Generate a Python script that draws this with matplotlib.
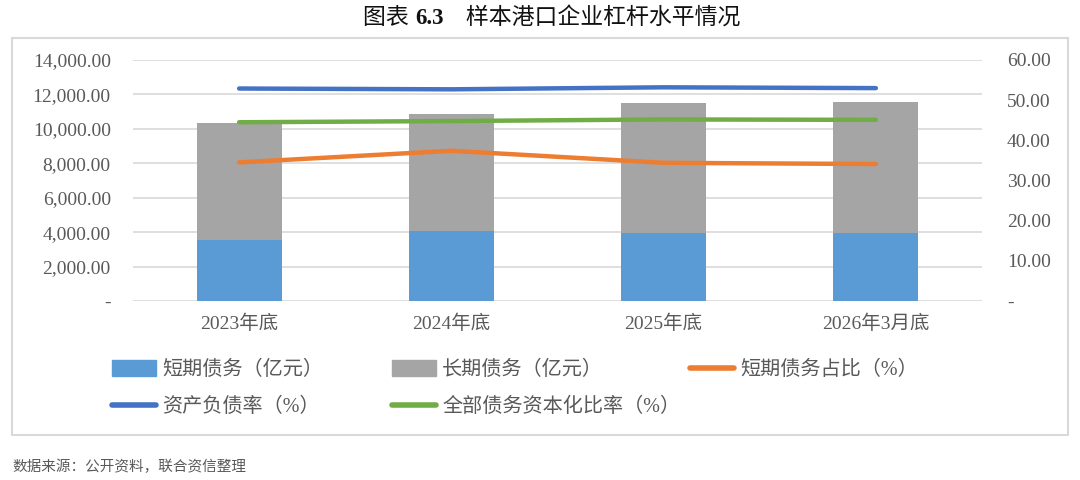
import matplotlib
matplotlib.use("Agg")
import matplotlib.pyplot as plt
from matplotlib.patches import Rectangle, Patch
from matplotlib.lines import Line2D
from matplotlib.ticker import FuncFormatter
import numpy as np

plt.rcParams['font.family'] = ['Liberation Serif', 'Noto Sans CJK SC', 'DejaVu Sans']

# data
categories = ["2023年底", "2024年底", "2025年底", "2026年3月底"]
short_debt = [3560, 4050, 3950, 3950]          # 短期债务（亿元）
total_debt = [10360, 10860, 11480, 11580]
long_debt = [t - s for t, s in zip(total_debt, short_debt)]  # 长期债务（亿元）
short_ratio = [34.5, 37.4, 34.4, 34.1]         # 短期债务占比（%）
asset_liab = [52.9, 52.7, 53.2, 53.0]          # 资产负债率（%）
cap_ratio = [44.5, 44.8, 45.2, 45.1]           # 全部债务资本化比率（%）

c_short = "#5B9BD5"
c_long = "#A5A5A5"
c_orange = "#ED7D31"
c_blue = "#4472C4"
c_green = "#70AD47"
txt = "#595959"

fig = plt.figure(figsize=(10.8, 4.8), dpi=100)
ax = fig.add_axes([133 / 1080, 1 - 301 / 480, (982 - 133) / 1080, 241 / 480])
ax2 = ax.twinx()

x = np.arange(len(categories))
ax.bar(x, short_debt, width=0.4, color=c_short, zorder=2)
ax.bar(x, long_debt, width=0.4, bottom=short_debt, color=c_long, zorder=2)
ax.set_ylim(0, 14000)
ax.set_yticks(np.arange(0, 14001, 2000))
ax.yaxis.set_major_formatter(FuncFormatter(lambda v, p: "-" if v == 0 else f"{v:,.2f}"))
ax.grid(axis="y", color="#D9D9D9", linewidth=1.2, zorder=0)
ax.set_axisbelow(True)
ax.set_xlim(-0.5, len(categories) - 0.5)
ax.set_xticks(x)
ax.set_xticklabels(categories)

lw = 3.2
ax2.plot(x, short_ratio, color=c_orange, lw=lw, solid_capstyle="round")
ax2.plot(x, asset_liab, color=c_blue, lw=lw, solid_capstyle="round")
ax2.plot(x, cap_ratio, color=c_green, lw=lw, solid_capstyle="round")
ax2.set_ylim(0, 60)
ax2.set_yticks(np.arange(0, 61, 10))
ax2.yaxis.set_major_formatter(FuncFormatter(lambda v, p: "-" if v == 0 else f"{v:.2f}"))

for a in (ax, ax2):
    for s in a.spines.values():
        s.set_visible(False)
    a.tick_params(length=0, labelsize=14, labelcolor=txt)
ax.tick_params(axis="y", pad=16)
ax.tick_params(axis="x", pad=10)
ax2.tick_params(axis="y", pad=18)

# chart frame
fig.add_artist(Rectangle((12 / 1080, 1 - 435 / 480), 1056 / 1080, 397 / 480,
                         transform=fig.transFigure, fill=False,
                         edgecolor="#D9D9D9", linewidth=1.5))

# title: regular CJK with bold number, pieced together left to right
renderer = fig.canvas.get_renderer()
parts = [("图表 ", "normal"), ("6.3", "bold"), ("　样本港口企业杠杆水平情况", "normal")]
pieces = []
for s, w in parts:
    t = fig.text(0, 1 - 18 / 480, s, ha="left", va="center", fontsize=16.5,
                 fontweight=w, color="#111111")
    pieces.append(t)
widths = [t.get_window_extent(renderer).width for t in pieces]
xpos = (1080 - sum(widths)) / 2 + 12
for t, wd in zip(pieces, widths):
    t.set_x(xpos / 1080)
    xpos += wd

# legend entries placed individually
entries = [
    (Patch(color=c_short), "短期债务（亿元）", 112, 370),
    (Patch(color=c_long), "长期债务（亿元）", 392, 370),
    (Line2D([], [], color=c_orange, lw=4, solid_capstyle="round"), "短期债务占比（%）", 690, 370),
    (Line2D([], [], color=c_blue, lw=4, solid_capstyle="round"), "资产负债率（%）", 112, 407),
    (Line2D([], [], color=c_green, lw=4, solid_capstyle="round"), "全部债务资本化比率（%）", 392, 407),
]
for h, lab, px, py in entries:
    fig.legend(handles=[h], labels=[lab], loc="center left",
               bbox_to_anchor=(px / 1080, 1 - py / 480), frameon=False,
               fontsize=14.5, labelcolor=txt, handlelength=2.2, handleheight=0.8,
               handletextpad=0.3, borderpad=0, borderaxespad=0)

fig.text(12 / 1080, 1 - 467 / 480, "数据来源：公开资料，联合资信整理", ha="left", va="center",
         fontsize=10.5, color=txt)

fig.savefig("out.png", dpi=100)
